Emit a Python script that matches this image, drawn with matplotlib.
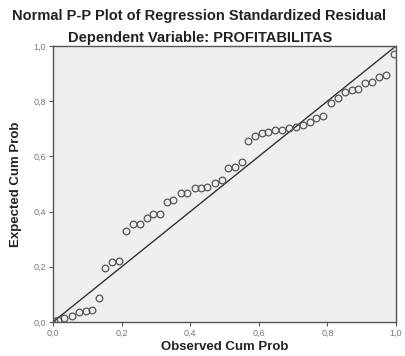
import matplotlib
matplotlib.use("Agg")
import matplotlib.pyplot as plt
from matplotlib.ticker import FuncFormatter

observed = [0.003, 0.016, 0.032, 0.054, 0.076, 0.095, 0.114, 0.134, 0.153, 0.172,
            0.191, 0.213, 0.233, 0.253, 0.273, 0.292, 0.312, 0.332, 0.351, 0.372,
            0.392, 0.413, 0.431, 0.450, 0.472, 0.492, 0.511, 0.531, 0.550, 0.569,
            0.590, 0.608, 0.627, 0.647, 0.667, 0.688, 0.708, 0.729, 0.748, 0.767,
            0.786, 0.810, 0.831, 0.851, 0.871, 0.890, 0.911, 0.930, 0.950, 0.971,
            0.994]
expected = [0.004, 0.009, 0.016, 0.020, 0.037, 0.039, 0.045, 0.086, 0.197, 0.216,
            0.220, 0.330, 0.355, 0.355, 0.376, 0.391, 0.390, 0.436, 0.442, 0.467,
            0.468, 0.487, 0.487, 0.488, 0.504, 0.513, 0.557, 0.563, 0.578, 0.656,
            0.675, 0.685, 0.689, 0.694, 0.697, 0.702, 0.708, 0.714, 0.726, 0.738,
            0.746, 0.792, 0.810, 0.833, 0.841, 0.843, 0.866, 0.869, 0.886, 0.895,
            0.972]
ref_line = [0.0, 1.0]
ticks = [0.0, 0.2, 0.4, 0.6, 0.8, 1.0]

plt.rcParams['font.family'] = ['Liberation Sans', 'DejaVu Sans']

fig = plt.figure(figsize=(4.06, 3.56), dpi=100)
ax = fig.add_axes([53/406, 1-322/356, (396-53)/406, (322-46)/356])
ax.set_facecolor('#efefef')

ax.plot(ref_line, ref_line, color='#333333', lw=1.0, zorder=2)
ax.plot(observed, expected, linestyle='none', marker='o', markersize=4.8,
        markerfacecolor='none', markeredgecolor='#555555', markeredgewidth=0.9, zorder=3)

ax.set_xlim(0, 1)
ax.set_ylim(0, 1)
ax.set_xticks(ticks)
ax.set_yticks(ticks)
fmt = FuncFormatter(lambda v, p: f"{v:.1f}".replace('.', ','))
ax.xaxis.set_major_formatter(fmt)
ax.yaxis.set_major_formatter(fmt)
ax.tick_params(direction='out', length=3, width=0.8, colors='#555555',
               labelsize=6.5, labelcolor='#777777', pad=2)
for s in ax.spines.values():
    s.set_color('#555555')
    s.set_linewidth(1.0)

ax.set_xlabel('Observed Cum Prob', fontsize=9.5, fontweight='bold', color='#222222', labelpad=2)
ax.set_ylabel('Expected Cum Prob', fontsize=9.5, fontweight='bold', color='#222222', labelpad=8)

fig.text(0.489, 1-16/356, 'Normal P-P Plot of Regression Standardized Residual',
         ha='center', va='center', fontsize=10.5, fontweight='bold', color='#222222')
fig.text(0.493, 1-38/356, 'Dependent Variable: PROFITABILITAS',
         ha='center', va='center', fontsize=10.5, fontweight='bold', color='#222222')

fig.savefig('out.png', dpi=100)
